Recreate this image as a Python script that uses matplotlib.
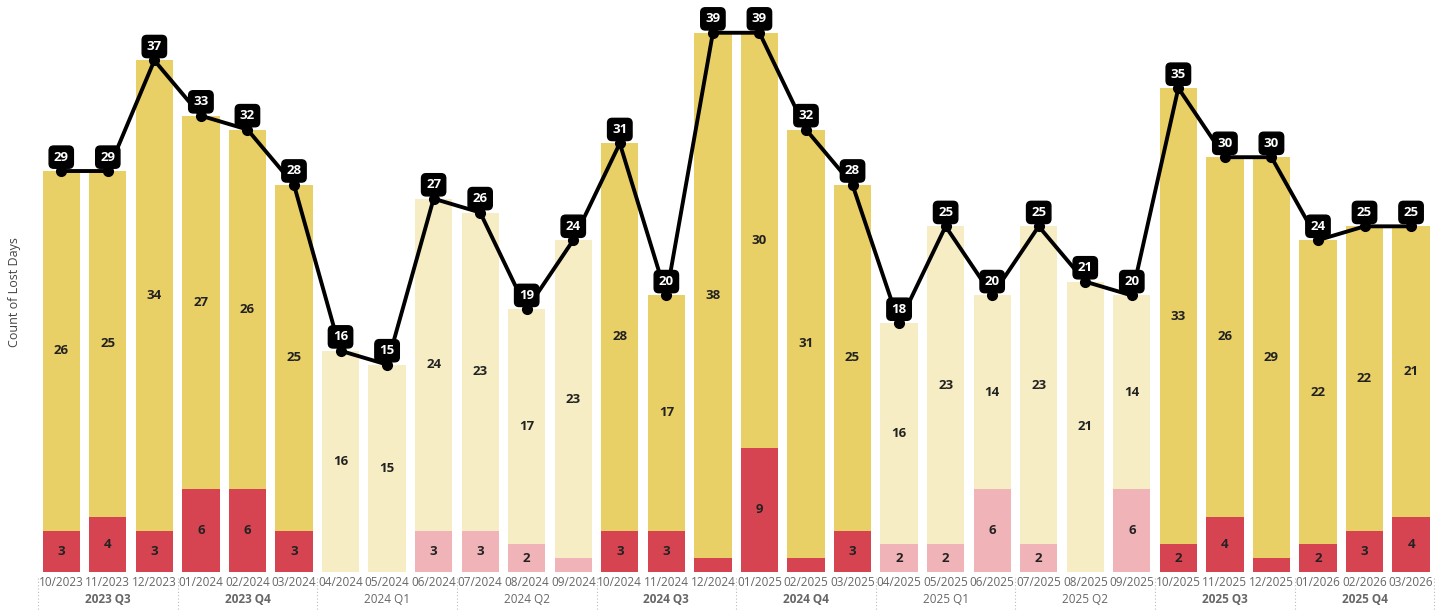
import matplotlib.pyplot as plt
import matplotlib.transforms as mtransforms

plt.rcParams['font.family'] = ['Open Sans', 'DejaVu Sans']

months = ['10/2023', '11/2023', '12/2023', '01/2024', '02/2024', '03/2024',
          '04/2024', '05/2024', '06/2024', '07/2024', '08/2024', '09/2024',
          '10/2024', '11/2024', '12/2024', '01/2025', '02/2025', '03/2025',
          '04/2025', '05/2025', '06/2025', '07/2025', '08/2025', '09/2025',
          '10/2025', '11/2025', '12/2025', '01/2026', '02/2026', '03/2026']
red_days = [3, 4, 3, 6, 6, 3, 0, 0, 3, 3, 2, 1, 3, 3, 1, 9, 1, 3,
            2, 2, 6, 2, 0, 6, 2, 4, 1, 2, 3, 4]
yellow_days = [26, 25, 34, 27, 26, 25, 16, 15, 24, 23, 17, 23, 28, 17, 38, 30, 31, 25,
               16, 23, 14, 23, 21, 14, 33, 26, 29, 22, 22, 21]
quarters = ['2023 Q3', '2023 Q4', '2024 Q1', '2024 Q2', '2024 Q3',
            '2024 Q4', '2025 Q1', '2025 Q2', '2025 Q3', '2025 Q4']
# quarters drawn faded (not highlighted)
faded_quarters = ['2024 Q1', '2024 Q2', '2025 Q1', '2025 Q2']

totals = [r + y for r, y in zip(red_days, yellow_days)]
faded = [quarters[i // 3] in faded_quarters for i in range(len(months))]

YELLOW, YELLOW_LIGHT = '#E8CF66', '#F6EDC4'
RED, RED_LIGHT = '#D64452', '#F0B3B8'

fig = plt.figure(figsize=(14.5, 6.1), dpi=100)
ax = fig.add_axes([0.0262, 0.0623, 0.963, 0.918])

x = list(range(len(months)))
red_cols = [RED_LIGHT if f else RED for f in faded]
yel_cols = [YELLOW_LIGHT if f else YELLOW for f in faded]

ax.bar(x, red_days, width=0.8, color=red_cols, zorder=2)
ax.bar(x, yellow_days, width=0.8, bottom=red_days, color=yel_cols, zorder=2)

for i in x:
    if red_days[i] >= 2:
        ax.text(i, red_days[i] / 2, str(red_days[i]), ha='center', va='center',
                fontsize=9.5, fontweight='bold', color='#222222', zorder=3)
    ax.text(i, red_days[i] + yellow_days[i] / 2, str(yellow_days[i]), ha='center',
            va='center', fontsize=9.5, fontweight='bold', color='#222222', zorder=3)

ax.plot(x, totals, color='black', lw=2.8, marker='o', markersize=7, zorder=4)
for i in x:
    ax.annotate(str(totals[i]), (i, totals[i]), xytext=(0, 10), textcoords='offset points',
                ha='center', va='center', fontsize=9.5, fontweight='bold', color='white',
                zorder=5, annotation_clip=False,
                bbox=dict(boxstyle='round,pad=0.35,rounding_size=0.35', fc='black', ec='black'))

ax.set_xlim(-0.5, len(months) - 0.5)
ax.set_ylim(0, 40.5)
ax.set_yticks([])
ax.set_xticks(x)
ax.set_xticklabels(months, fontsize=8.5, color='#666666')
ax.tick_params(axis='x', length=0, pad=3)
for s in ax.spines.values():
    s.set_visible(False)
ax.set_ylabel('Count of Lost Days', fontsize=9, color='#444444')
ax.yaxis.set_label_coords(-0.012, 0.5)

trans = mtransforms.blended_transform_factory(ax.transData, ax.transAxes)
for q, name in enumerate(quarters):
    weight = 'normal' if name in faded_quarters else 'bold'
    ax.text(q * 3 + 1, -0.05, name, transform=trans, ha='center', va='center',
            fontsize=8.5, fontweight=weight, color='#666666')
for b in range(len(quarters) + 1):
    ax.plot([b * 3 - 0.5, b * 3 - 0.5], [-0.01, -0.08], transform=trans, color='#BBBBBB',
            lw=0.8, ls=(0, (1, 2)), clip_on=False)

fig.savefig('out.png', dpi=100)
